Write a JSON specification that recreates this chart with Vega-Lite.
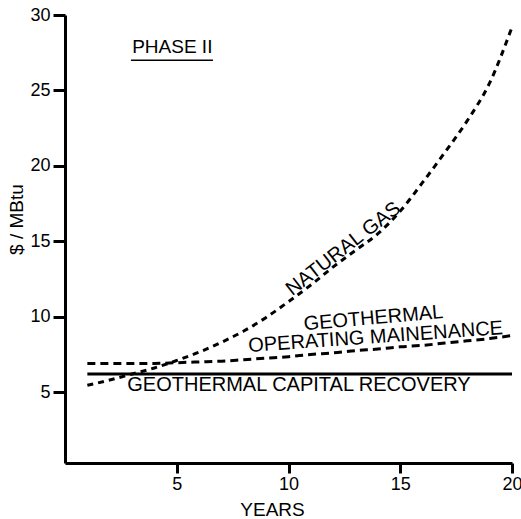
{
  "$schema": "https://vega.github.io/schema/vega-lite/v6.json",
  "width": 447,
  "height": 448,
  "autosize": {"type": "none"},
  "padding": {"left": 65, "top": 15, "right": 9, "bottom": 56},
  "background": "white",
  "config": {
    "view": {"stroke": null},
    "font": "Liberation Sans",
    "axis": {
      "domainColor": "black", "domainWidth": 3, "tickColor": "black", "tickWidth": 3,
      "labelColor": "black", "titleColor": "black", "labelFont": "Liberation Sans",
      "titleFont": "Liberation Sans", "labelFontSize": 18, "titleFontSize": 19,
      "titleFontWeight": "normal", "grid": false
    }
  },
  "datasets": {
    "lines": [
      {"series": "capital", "year": 1, "cost": 6.2},
      {"series": "capital", "year": 20, "cost": 6.2},
      {"series": "om", "year": 1, "cost": 6.9},
      {"series": "om", "year": 2, "cost": 6.9},
      {"series": "om", "year": 3, "cost": 6.9},
      {"series": "om", "year": 4, "cost": 6.9},
      {"series": "om", "year": 5, "cost": 6.95},
      {"series": "om", "year": 6, "cost": 7.0},
      {"series": "om", "year": 7, "cost": 7.05},
      {"series": "om", "year": 8, "cost": 7.15},
      {"series": "om", "year": 9, "cost": 7.25},
      {"series": "om", "year": 10, "cost": 7.35},
      {"series": "om", "year": 11, "cost": 7.5},
      {"series": "om", "year": 12, "cost": 7.6},
      {"series": "om", "year": 13, "cost": 7.75},
      {"series": "om", "year": 14, "cost": 7.85},
      {"series": "om", "year": 15, "cost": 8.0},
      {"series": "om", "year": 16, "cost": 8.1},
      {"series": "om", "year": 17, "cost": 8.25},
      {"series": "om", "year": 18, "cost": 8.4},
      {"series": "om", "year": 19, "cost": 8.55},
      {"series": "om", "year": 20, "cost": 8.75},
      {"series": "gas", "year": 1, "cost": 5.45},
      {"series": "gas", "year": 2, "cost": 5.8},
      {"series": "gas", "year": 3, "cost": 6.2},
      {"series": "gas", "year": 4, "cost": 6.6},
      {"series": "gas", "year": 5, "cost": 7.1},
      {"series": "gas", "year": 6, "cost": 7.65},
      {"series": "gas", "year": 7, "cost": 8.3},
      {"series": "gas", "year": 8, "cost": 9.05},
      {"series": "gas", "year": 9, "cost": 9.95},
      {"series": "gas", "year": 10, "cost": 11.0},
      {"series": "gas", "year": 11, "cost": 12.1},
      {"series": "gas", "year": 12, "cost": 13.3},
      {"series": "gas", "year": 13, "cost": 14.4},
      {"series": "gas", "year": 14, "cost": 15.5},
      {"series": "gas", "year": 15, "cost": 17.0},
      {"series": "gas", "year": 16, "cost": 18.9},
      {"series": "gas", "year": 17, "cost": 20.9},
      {"series": "gas", "year": 18, "cost": 23.0},
      {"series": "gas", "year": 19, "cost": 25.5},
      {"series": "gas", "year": 20, "cost": 29.2}
    ]
  },
  "layer": [
    {
      "data": {"name": "lines"},
      "transform": [{"filter": "datum.series === 'capital'"}],
      "mark": {"type": "line", "color": "black", "strokeWidth": 3},
      "encoding": {
        "x": {"field": "year", "type": "quantitative", "scale": {"domain": [0, 20], "nice": false},
          "axis": {"values": [5, 10, 15, 20], "title": "YEARS", "tickSize": 10, "labelPadding": 2,
            "titleX": 207, "titleY": 52, "titleBaseline": "alphabetic", "titleAlign": "center", "labelFlush": false}},
        "y": {"field": "cost", "type": "quantitative", "scale": {"domain": [0.3, 30], "nice": false, "zero": false},
          "axis": {"values": [5, 10, 15, 20, 25, 30], "title": "$ / MBtu", "tickSize": 12, "labelPadding": 3,
            "titleX": -43, "titleY": 204, "titleBaseline": "alphabetic", "titleAlign": "center", "titleAngle": -90}}
      }
    },
    {
      "data": {"name": "lines"},
      "transform": [{"filter": "datum.series === 'om'"}],
      "mark": {"type": "line", "color": "black", "strokeWidth": 3, "strokeDash": [8, 5], "interpolate": "monotone"},
      "encoding": {
        "x": {"field": "year", "type": "quantitative"},
        "y": {"field": "cost", "type": "quantitative"}
      }
    },
    {
      "data": {"name": "lines"},
      "transform": [{"filter": "datum.series === 'gas'"}],
      "mark": {"type": "line", "color": "black", "strokeWidth": 3, "strokeDash": [6, 5], "interpolate": "monotone"},
      "encoding": {
        "x": {"field": "year", "type": "quantitative"},
        "y": {"field": "cost", "type": "quantitative"}
      }
    },
    {
      "data": {"values": [{"label": "PHASE II", "year": 4.8, "cost": 27.9}]},
      "mark": {"type": "text", "fontSize": 19, "color": "black", "align": "center", "baseline": "middle"},
      "encoding": {
        "x": {"field": "year", "type": "quantitative"},
        "y": {"field": "cost", "type": "quantitative"},
        "text": {"field": "label"}
      }
    },
    {
      "data": {"values": [{"year": 2.95, "year2": 6.62, "cost": 27.0}]},
      "mark": {"type": "rule", "color": "black", "strokeWidth": 1.5},
      "encoding": {
        "x": {"field": "year", "type": "quantitative"},
        "x2": {"field": "year2"},
        "y": {"field": "cost", "type": "quantitative"}
      }
    },
    {
      "data": {"values": [{"label": "NATURAL GAS", "year": 12.45, "cost": 14.5}]},
      "mark": {"type": "text", "fontSize": 20, "color": "black", "align": "center", "baseline": "middle", "angle": -38},
      "encoding": {
        "x": {"field": "year", "type": "quantitative"},
        "y": {"field": "cost", "type": "quantitative"},
        "text": {"field": "label"}
      }
    },
    {
      "data": {"values": [{"label": "GEOTHERMAL", "year": 13.8, "cost": 9.9}]},
      "mark": {"type": "text", "fontSize": 20, "color": "black", "align": "center", "baseline": "middle", "angle": -5},
      "encoding": {
        "x": {"field": "year", "type": "quantitative"},
        "y": {"field": "cost", "type": "quantitative"},
        "text": {"field": "label"}
      }
    },
    {
      "data": {"values": [{"label": "OPERATING MAINENANCE", "year": 13.9, "cost": 8.65}]},
      "mark": {"type": "text", "fontSize": 20, "color": "black", "align": "center", "baseline": "middle", "angle": -4},
      "encoding": {
        "x": {"field": "year", "type": "quantitative"},
        "y": {"field": "cost", "type": "quantitative"},
        "text": {"field": "label"}
      }
    },
    {
      "data": {"values": [{"label": "GEOTHERMAL CAPITAL RECOVERY", "year": 10.47, "cost": 5.5}]},
      "mark": {"type": "text", "fontSize": 20, "color": "black", "align": "center", "baseline": "middle"},
      "encoding": {
        "x": {"field": "year", "type": "quantitative"},
        "y": {"field": "cost", "type": "quantitative"},
        "text": {"field": "label"}
      }
    }
  ]
}
